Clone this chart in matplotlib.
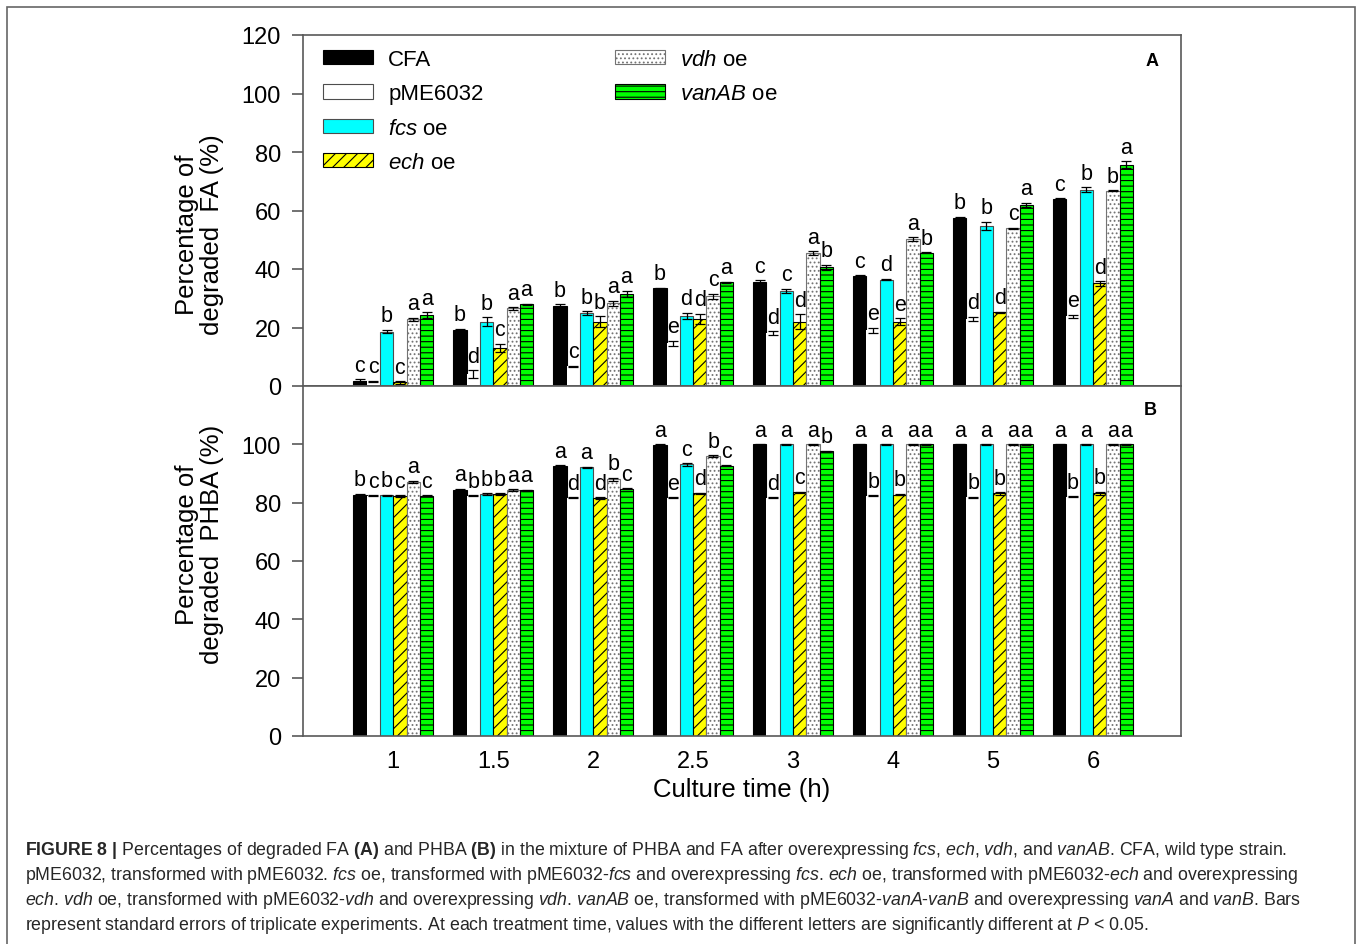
import matplotlib
matplotlib.use('Agg')
import matplotlib.pyplot as plt
from matplotlib.patches import Patch, Rectangle
import numpy as np

plt.rcParams['font.family'] = ['Liberation Sans', 'DejaVu Sans']
plt.rcParams['mathtext.fontset'] = 'custom'
plt.rcParams['mathtext.rm'] = 'Liberation Sans'
plt.rcParams['mathtext.it'] = 'Liberation Sans:italic'
plt.rcParams['mathtext.bf'] = 'Liberation Sans:bold'
plt.rcParams['hatch.linewidth'] = 0.8

# culture time (h) and strains
times = ['1', '1.5', '2', '2.5', '3', '4', '5', '6']
strains = ['CFA', 'pME6032', r'$\mathit{fcs}$ oe', r'$\mathit{ech}$ oe',
           r'$\mathit{vdh}$ oe', r'$\mathit{vanAB}$ oe']

# panel A - degraded FA (%)
fa_cfa = [1.8, 19.0, 27.5, 33.4, 35.4, 37.7, 57.3, 63.8]
fa_pme = [1.6, 4.1, 6.8, 14.6, 18.1, 19.0, 22.9, 23.8]
fa_fcs = [18.6, 22.0, 25.0, 24.0, 32.5, 36.4, 54.7, 67.1]
fa_ech = [1.2, 13.0, 22.0, 22.9, 22.0, 22.0, 25.2, 35.1]
fa_vdh = [22.8, 26.5, 28.3, 30.7, 45.4, 50.2, 53.9, 66.7]
fa_vanab = [24.3, 27.9, 31.5, 35.4, 40.6, 45.5, 61.9, 75.7]
fa_err_cfa = [0.6, 0.6, 0.5, 0.2, 0.7, 0.2, 0.5, 0.4]
fa_err_pme = [0.2, 1.3, 0.2, 0.9, 0.6, 1.0, 0.8, 0.6]
fa_err_fcs = [0.6, 1.5, 0.6, 1.0, 0.7, 0.3, 1.4, 0.8]
fa_err_ech = [0.4, 1.5, 1.8, 1.8, 2.5, 1.1, 0.2, 0.8]
fa_err_vdh = [0.6, 0.5, 0.8, 0.8, 0.6, 0.6, 0.2, 0.2]
fa_err_vanab = [0.9, 0.2, 1.0, 0.3, 0.8, 0.2, 0.7, 1.2]
fa_letters = ['ccbcaa', 'bdbcaa', 'bcbbaa', 'beddca',
              'cdcdab', 'cedeab', 'bdbdca', 'cebdba']

# panel B - degraded PHBA (%)
phba_cfa = [82.8, 84.5, 92.6, 99.9, 100, 100, 100, 100]
phba_pme = [82.4, 82.4, 81.7, 81.7, 81.7, 82.4, 81.9, 82.0]
phba_fcs = [82.6, 83.0, 92.2, 93.1, 100, 100, 100, 100]
phba_ech = [82.3, 83.0, 81.6, 83.2, 83.5, 82.8, 83.2, 83.2]
phba_vdh = [87.1, 84.3, 88.0, 96.0, 100, 100, 100, 100]
phba_vanab = [82.4, 84.2, 84.8, 92.7, 97.6, 100, 100, 100]
phba_err_cfa = [0.2, 0.2, 0.2, 0.2, 0.1, 0.1, 0.1, 0.1]
phba_err_pme = [0.2, 0.2, 0.2, 0.2, 0.2, 0.2, 0.2, 0.2]
phba_err_fcs = [0.2, 0.3, 0.2, 0.5, 0.1, 0.1, 0.1, 0.1]
phba_err_ech = [0.2, 0.3, 0.2, 0.2, 0.2, 0.3, 0.4, 0.6]
phba_err_vdh = [0.5, 0.3, 0.5, 0.2, 0.1, 0.1, 0.1, 0.1]
phba_err_vanab = [0.2, 0.2, 0.2, 0.2, 0.2, 0.1, 0.1, 0.1]
phba_letters = ['bcbcac', 'abbbaa', 'adadbc', 'aecdbc',
                'adacab', 'ababaa', 'ababaa', 'ababaa']

styles = [
    dict(facecolor='black', edgecolor='black', hatch=None),
    dict(facecolor='white', edgecolor='none', hatch=None),
    dict(facecolor='#00ffff', edgecolor='0.3', hatch=None),
    dict(facecolor='#ffff00', edgecolor='black', hatch='///'),
    dict(facecolor='white', edgecolor='0.45', hatch='....'),
    dict(facecolor='#00ff00', edgecolor='black', hatch='---'),
]

W, H = 1358, 945
fig = plt.figure(figsize=(W / 100, H / 100), dpi=100)


def px_axes(l, t, r, b):
    return fig.add_axes([l / W, 1 - b / H, (r - l) / W, (b - t) / H])


axA = px_axes(303, 36, 1181, 387)
axB = px_axes(303, 387, 1181, 737)

x = np.arange(1, len(times) + 1)
w = 0.1333


def draw_panel(ax, series, errs, letters):
    for k, (vals, err, st) in enumerate(zip(series, errs, styles)):
        xs = x + (k - 2.5) * w
        ax.bar(xs, vals, width=w, linewidth=0.8, zorder=2, **st)
        ax.errorbar(xs, vals, yerr=err, fmt='none', ecolor='black',
                    elinewidth=0.9, capsize=3.5, capthick=0.9, zorder=3)
        for i in range(len(x)):
            ax.annotate(letters[i][k], (xs[i], vals[i] + err[i]),
                        xytext=(0, 2.5), textcoords='offset points',
                        ha='center', va='bottom', fontsize=15.5)
    ax.set_xlim(0.097, 8.88)
    ax.set_ylim(0, 120)
    for sp in ax.spines.values():
        sp.set_color('0.35')
        sp.set_linewidth(1.2)
    ax.tick_params(axis='y', direction='out', length=8, width=1.2,
                   color='0.35', labelsize=17, pad=8)
    ax.tick_params(axis='x', length=0, labelsize=17, pad=10)


draw_panel(axA, [fa_cfa, fa_pme, fa_fcs, fa_ech, fa_vdh, fa_vanab],
           [fa_err_cfa, fa_err_pme, fa_err_fcs, fa_err_ech, fa_err_vdh, fa_err_vanab],
           fa_letters)
draw_panel(axB, [phba_cfa, phba_pme, phba_fcs, phba_ech, phba_vdh, phba_vanab],
           [phba_err_cfa, phba_err_pme, phba_err_fcs, phba_err_ech, phba_err_vdh,
            phba_err_vanab],
           phba_letters)

axA.set_yticks(np.arange(0, 121, 20))
axA.set_xticks([])
axB.set_yticks(np.arange(0, 101, 20))
axB.set_xticks(x, times)
axB.set_xlabel('Culture time (h)', fontsize=18.5, labelpad=4)

axA.set_ylabel('Percentage of\ndegraded  FA (%)', fontsize=18.5, va='center',
               linespacing=1.05)
axA.yaxis.set_label_coords(-0.118, 0.433)
axB.set_ylabel('Percentage of\ndegraded  PHBA (%)', fontsize=18.5, va='center',
               linespacing=1.05)
axB.yaxis.set_label_coords(-0.118, 0.549)

axA.text(0.967, 0.926, 'A', transform=axA.transAxes, ha='center', va='center',
         fontsize=13, fontweight='bold')
axB.text(0.965, 0.934, 'B', transform=axB.transAxes, ha='center', va='center',
         fontsize=13, fontweight='bold')

# legend: 4 entries in first column, 2 in second
handles = [Patch(facecolor=st['facecolor'],
                 edgecolor='0.3' if st['edgecolor'] == 'none' else st['edgecolor'],
                 hatch=st['hatch'], linewidth=0.8) for st in styles]
leg_kw = dict(frameon=False, fontsize=16, handlelength=2.25, handleheight=0.63,
              handletextpad=0.68, labelspacing=0.6, borderpad=0,
              borderaxespad=0, loc='upper left')
leg1 = axA.legend(handles[:4], strains[:4], bbox_to_anchor=(0.0228, 0.960), **leg_kw)
axA.add_artist(leg1)
axA.legend(handles[4:], strains[4:], bbox_to_anchor=(0.355, 0.960), **leg_kw)

# frame and caption
fig.add_artist(Rectangle((7 / W, -0.02), 1348 / W, 1.02 - 8 / H,
                         transform=fig.transFigure, fill=False,
                         edgecolor='0.4', linewidth=1.2))

caption = [
    r'$\mathbf{FIGURE\ 8\ |}$ Percentages of degraded FA $\mathbf{(A)}$ and PHBA '
    r'$\mathbf{(B)}$ in the mixture of PHBA and FA after overexpressing '
    r'$\mathit{fcs}$, $\mathit{ech}$, $\mathit{vdh}$, and $\mathit{vanAB}$. '
    r'CFA, wild type strain.',
    r'pME6032, transformed with pME6032. $\mathit{fcs}$ oe, transformed with '
    r'pME6032-$\mathit{fcs}$ and overexpressing $\mathit{fcs}$. $\mathit{ech}$ oe, '
    r'transformed with pME6032-$\mathit{ech}$ and overexpressing',
    r'$\mathit{ech}$. $\mathit{vdh}$ oe, transformed with pME6032-$\mathit{vdh}$ and '
    r'overexpressing $\mathit{vdh}$. $\mathit{vanAB}$ oe, transformed with '
    r'pME6032-$\mathit{vanA}$-$\mathit{vanB}$ and overexpressing $\mathit{vanA}$ '
    r'and $\mathit{vanB}$. Bars',
    r'represent standard errors of triplicate experiments. At each treatment time, '
    r'values with the different letters are significantly different at '
    r'$\mathit{P}$ < 0.05.',
]
for i, line in enumerate(caption):
    fig.text(25 / W, 1 - (851 + 25 * i) / H, line, fontsize=12.8, va='center',
             color='0.15')

fig.savefig('out.png', dpi=100)
